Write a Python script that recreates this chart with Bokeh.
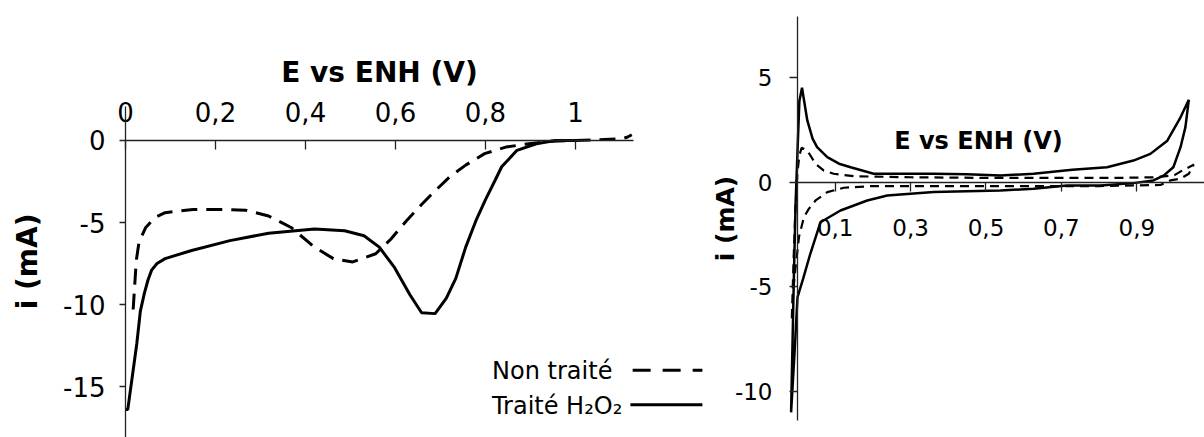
import math
from bokeh.plotting import figure
from bokeh.models import LinearAxis, FixedTicker, Range1d, Label, Arrow
from bokeh.embed import file_html
from bokeh.resources import INLINE

FONT = "DejaVu Sans"

# ---------------- Left panel data (linear sweep) ----------------
left_ticks_x = [0, 0.2, 0.4, 0.6, 0.8, 1.0]
left_ticks_x_labels = ["0", "0,2", "0,4", "0,6", "0,8", "1"]
left_ticks_y = [0, -5, -10, -15]
left_ticks_y_labels = ["0", "-5", "-10", "-15"]

non_traite_E = [0.017, 0.020, 0.024, 0.030, 0.045, 0.065, 0.088, 0.15, 0.22, 0.267,
                0.318, 0.368, 0.42, 0.462, 0.505, 0.556, 0.59, 0.624, 0.658, 0.683,
                0.721, 0.756, 0.798, 0.845, 0.896, 0.947, 1.0, 1.05, 1.1, 1.115, 1.125]
non_traite_i = [-10.3, -9.0, -7.3, -6.2, -5.3, -4.7, -4.4, -4.2, -4.2, -4.25,
                -4.6, -5.3, -6.5, -7.2, -7.4, -6.9, -6.0, -4.9, -3.9, -3.2,
                -2.2, -1.5, -0.8, -0.4, -0.2, -0.05, 0.0, 0.05, 0.1, 0.2, 0.35]

traite_E = [0.0, 0.005, 0.015, 0.025, 0.033, 0.042, 0.05, 0.058, 0.07, 0.088,
            0.147, 0.232, 0.318, 0.42, 0.487, 0.53, 0.564, 0.598, 0.632, 0.658,
            0.688, 0.713, 0.734, 0.756, 0.78, 0.80, 0.82, 0.836, 0.87, 0.913,
            0.955, 1.0]
traite_i = [-16.4, -16.4, -14.4, -12.4, -10.4, -9.3, -8.5, -7.9, -7.5, -7.2,
            -6.7, -6.1, -5.65, -5.4, -5.5, -5.8, -6.5, -7.75, -9.4, -10.5,
            -10.55, -9.6, -8.4, -6.5, -4.8, -3.6, -2.5, -1.6, -0.6, -0.2,
            0.0, 0.0]

# ---------------- Right panel data (cyclic voltammograms) ----------------
right_ticks_x = [0.1, 0.3, 0.5, 0.7, 0.9]
right_ticks_x_labels = ["0,1", "0,3", "0,5", "0,7", "0,9"]
right_ticks_y = [-10, -5, 0, 5]
right_ticks_y_labels = ["-10", "-5", "0", "5"]

cv_traite_E = [-0.017, -0.013, -0.009, -0.005, 0.0, 0.005, 0.012, 0.016, 0.026, 0.04,
               0.052, 0.079, 0.11, 0.141, 0.202, 0.3, 0.361, 0.45, 0.538, 0.626,
               0.729, 0.821, 0.891, 0.936, 0.981, 1.016, 1.038, 1.029, 1.016, 0.997,
               0.971, 0.944, 0.891, 0.804, 0.715, 0.626, 0.538, 0.361, 0.238, 0.185,
               0.114, 0.061, 0.034, 0.015, 0.0, -0.008, -0.017]
cv_traite_i = [-11.0, -7.5, -4.0, -1.0, 1.5, 3.9, 4.53, 4.08, 2.97, 2.1,
               1.69, 1.21, 0.9, 0.73, 0.42, 0.42, 0.42, 0.4, 0.33, 0.42,
               0.61, 0.73, 1.05, 1.37, 2.0, 3.12, 3.96, 2.65, 1.69, 0.73,
               0.33, 0.1, -0.03, -0.14, -0.14, -0.3, -0.38, -0.46, -0.62, -0.86,
               -1.34, -1.9, -3.41, -4.6, -5.49, -8.2, -11.0]

cv_non_traite_E = [-0.015, -0.01, -0.005, 0.0, 0.005, 0.011, 0.026, 0.048, 0.07, 0.096,
                   0.15, 0.3, 0.5, 0.7, 0.85, 0.95, 1.0, 1.02, 1.047, 1.051,
                   1.038, 1.016, 0.989, 0.963, 0.8, 0.6, 0.4, 0.2, 0.123, 0.079,
                   0.048, 0.03, 0.017, 0.004, -0.005, -0.012, -0.015]
cv_non_traite_i = [-6.5, -3.5, -1.0, 0.5, 1.3, 1.66, 1.53, 0.89, 0.57, 0.42,
                   0.3, 0.25, 0.22, 0.22, 0.22, 0.25, 0.35, 0.57, 0.81, 0.86,
                   0.42, 0.18, 0.1, -0.12, -0.17, -0.17, -0.17, -0.17, -0.25, -0.46,
                   -0.86, -1.26, -1.66, -2.6, -4.05, -5.3, -6.5]

AXIS_COLOR = "#222222"


def style_axis(ax, tick_font_size):
    ax.axis_line_color = AXIS_COLOR
    ax.axis_line_width = 1.3
    ax.major_tick_line_color = AXIS_COLOR
    ax.major_tick_line_width = 1.3
    ax.minor_tick_line_color = None
    ax.major_label_text_font = FONT
    ax.major_label_text_font_size = tick_font_size
    ax.major_label_text_color = "black"
    ax.axis_label_text_font = FONT
    ax.axis_label_text_font_style = "bold"
    ax.axis_label_text_color = "black"


# One canvas whose frame covers everything; each panel has its own ranges.
p = figure(width=1204, height=437,
           x_range=Range1d(-0.2778, 2.3978), y_range=Range1d(-18.099, 8.5314),
           output_backend="svg", toolbar_location=None,
           x_axis_location=None, y_axis_location=None,
           min_border_left=0, min_border_right=0,
           min_border_top=0, min_border_bottom=0)
p.extra_x_ranges = {"rx": Range1d(-2.1141, 1.0796)}
p.extra_y_ranges = {"ry": Range1d(-12.201, 8.7081)}
p.outline_line_color = None
p.xgrid.visible = False
p.ygrid.visible = False

# ================= LEFT PANEL =================
ly = LinearAxis(fixed_location=0, ticker=FixedTicker(ticks=left_ticks_y),
                bounds=(-18.099, 2.1))
ly.major_label_overrides = {t: s for t, s in zip(left_ticks_y, left_ticks_y_labels)}
style_axis(ly, "26px")
ly.major_tick_out = 6
ly.major_tick_in = 0
ly.major_label_standoff = 14
p.add_layout(ly, "left")

# y-axis title of the left panel
p.add_layout(Label(x=-0.2178, y=-7.37, text="i (mA)", angle=math.pi / 2,
                   text_align="center", text_baseline="middle", text_font=FONT,
                   text_font_size="28px", text_font_style="bold", text_color="black"))

lx = LinearAxis(fixed_location=0, ticker=FixedTicker(ticks=left_ticks_x),
                axis_label="E vs ENH (V)", bounds=(0, 1.13))
lx.major_label_overrides = {t: s for t, s in zip(left_ticks_x, left_ticks_x_labels)}
style_axis(lx, "26px")
lx.major_tick_out = 0
lx.major_tick_in = 9
lx.major_label_standoff = 18
lx.axis_label_text_font_size = "28px"
lx.axis_label_standoff = 11
p.add_layout(lx, "above")

p.line(non_traite_E, non_traite_i, line_color="black", line_width=3, line_dash="16 9")
p.line(traite_E, traite_i, line_color="black", line_width=3)

# legend (text left, key on the right, as in the original)
p.add_layout(Label(x=1.082, y=-14.06, text="Non traité", text_align="right",
                   text_baseline="middle", text_font=FONT, text_font_size="24px",
                   text_color="black"))
p.add_layout(Label(x=1.104, y=-16.15, text="Traité H₂O₂", text_align="right",
                   text_baseline="middle", text_font=FONT, text_font_size="24px",
                   text_color="black"))
p.add_layout(Arrow(x_start=1.127, y_start=-14.0, x_end=1.282, y_end=-14.0,
                   start=None, end=None, line_color="black", line_width=3,
                   line_dash="18 12"))
p.add_layout(Arrow(x_start=1.122, y_start=-16.1, x_end=1.282, y_end=-16.1,
                   start=None, end=None, line_color="black", line_width=3))

# ================= RIGHT PANEL =================
ry = LinearAxis(fixed_location=0, ticker=FixedTicker(ticks=right_ticks_y),
                axis_label="i (mA)", bounds=(-11.4, 7.94),
                x_range_name="rx", y_range_name="ry")
ry.major_label_overrides = {t: s for t, s in zip(right_ticks_y, right_ticks_y_labels)}
style_axis(ry, "23px")
ry.major_tick_out = 8
ry.major_tick_in = 0
ry.major_label_standoff = 17
ry.axis_label_text_font_size = "25px"
ry.axis_label_standoff = -8
p.add_layout(ry, "left")

rx = LinearAxis(fixed_location=0, ticker=FixedTicker(ticks=right_ticks_x),
                bounds=(0, 1.0796), x_range_name="rx", y_range_name="ry")
rx.major_label_overrides = {t: s for t, s in zip(right_ticks_x, right_ticks_x_labels)}
style_axis(rx, "23px")
rx.major_tick_out = 9
rx.major_tick_in = 0
rx.major_label_standoff = 28
p.add_layout(rx, "below")

p.add_layout(Label(x=0.48, y=2.0, text="E vs ENH (V)", text_align="center",
                   text_baseline="middle", text_font=FONT, text_font_size="24px",
                   text_font_style="bold", text_color="black",
                   x_range_name="rx", y_range_name="ry"))

p.line(cv_traite_E, cv_traite_i, line_color="black", line_width=2.5,
       x_range_name="rx", y_range_name="ry")
p.line(cv_non_traite_E, cv_non_traite_i, line_color="black", line_width=2.2,
       line_dash="9 6", x_range_name="rx", y_range_name="ry")

open("out.html", "w").write(file_html(p, INLINE))
